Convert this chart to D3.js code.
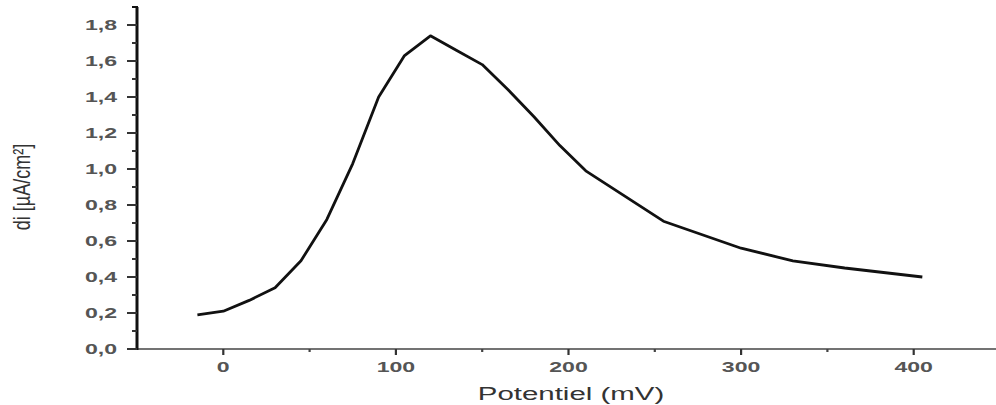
<!DOCTYPE html>
<html><head><meta charset="utf-8">
<script src="https://cdn.jsdelivr.net/npm/d3@7"></script>
<style>body{margin:0;background:#fff;}svg{display:block;}</style>
</head><body>
<script>
const potential = [-15, 0, 15, 30, 45, 60, 75, 90, 105, 120, 135, 150, 165, 180, 195, 210, 255, 300, 330, 360, 405];
const current = [0.19, 0.21, 0.27, 0.34, 0.49, 0.72, 1.03, 1.40, 1.63, 1.74, 1.66, 1.58, 1.44, 1.29, 1.13, 0.99, 0.71, 0.56, 0.49, 0.45, 0.40];
const xTicks = [0, 100, 200, 300, 400];
const xMinor = [50, 150, 250, 350];
const yTicks = [0, 0.2, 0.4, 0.6, 0.8, 1.0, 1.2, 1.4, 1.6, 1.8];
const yMinor = [0.1, 0.3, 0.5, 0.7, 0.9, 1.1, 1.3, 1.5, 1.7];

const W = 996, H = 405;
const SX = 1.65; // horizontal stretch of the scanned tick text
const svg = d3.select("body").append("svg").attr("width", W).attr("height", H);
const x = d3.scaleLinear().domain([-50, 450]).range([137, 1000]);
const y = d3.scaleLinear().domain([0, 1.9]).range([349, 7]);
const fmt = d => d3.format(".1f")(d).replace(".", ",");
const font = "Liberation Sans, Arial, sans-serif";

// X axis
const gx = svg.append("g").attr("transform", `translate(0,${y(0)})`);
gx.append("line").attr("x1", x(-50)).attr("x2", W).attr("stroke", "#444").attr("stroke-width", 1.6);
gx.selectAll(".mj").data(xTicks).join("line").attr("class", "mj").attr("x1", d => x(d)).attr("x2", d => x(d))
  .attr("y1", 0).attr("y2", 6).attr("stroke", "#333").attr("stroke-width", 2.2);
gx.selectAll(".mn").data(xMinor).join("line").attr("class", "mn").attr("x1", d => x(d)).attr("x2", d => x(d))
  .attr("y1", 0).attr("y2", 3).attr("stroke", "#444").attr("stroke-width", 2.2);
gx.selectAll("text").data(xTicks).join("text")
  .attr("transform", d => `translate(${x(d)},23) scale(${SX},1)`)
  .attr("text-anchor", "middle").attr("font-family", font).attr("font-size", 14).attr("font-weight", "bold")
  .attr("fill", "#555").text(d => d);

// Y axis
const gy = svg.append("g");
gy.append("line").attr("x1", x(-50)).attr("x2", x(-50)).attr("y1", y(0) + 1).attr("y2", y(1.9))
  .attr("stroke", "#111").attr("stroke-width", 3);
gy.append("line").attr("x1", x(-50) - 5).attr("x2", x(-50) + 1).attr("y1", y(1.9)).attr("y2", y(1.9))
  .attr("stroke", "#111").attr("stroke-width", 2);
gy.selectAll(".mj").data(yTicks).join("line").attr("class", "mj").attr("x1", x(-50) - 10).attr("x2", x(-50))
  .attr("y1", d => y(d)).attr("y2", d => y(d)).attr("stroke", "#333").attr("stroke-width", 2);
gy.selectAll(".mn").data(yMinor).join("line").attr("class", "mn").attr("x1", x(-50) - 5).attr("x2", x(-50))
  .attr("y1", d => y(d)).attr("y2", d => y(d)).attr("stroke", "#333").attr("stroke-width", 2);
gy.selectAll("text").data(yTicks).join("text")
  .attr("transform", d => `translate(117,${y(d) + 5}) scale(${SX},1)`)
  .attr("text-anchor", "end").attr("font-family", font).attr("font-size", 14).attr("font-weight", "bold")
  .attr("fill", "#555").text(fmt);

// Labels
svg.append("text").attr("transform", `translate(571,400) scale(1.55,1)`).attr("text-anchor", "middle")
  .attr("font-family", font).attr("font-size", 19).attr("fill", "#333").text("Potentiel (mV)");
svg.append("text").attr("transform", `translate(30,187) scale(1.3,1) rotate(-90)`).attr("text-anchor", "middle")
  .attr("font-family", font).attr("font-size", 18).attr("fill", "#333").text("di [µA/cm²]");

// Curve
const data = potential.map((p, i) => [p, current[i]]);
svg.append("path").datum(data)
  .attr("d", d3.line().x(d => x(d[0])).y(d => y(d[1])))
  .attr("fill", "none").attr("stroke", "#111").attr("stroke-width", 2.8).attr("stroke-linejoin", "round");
</script>
</body></html>
